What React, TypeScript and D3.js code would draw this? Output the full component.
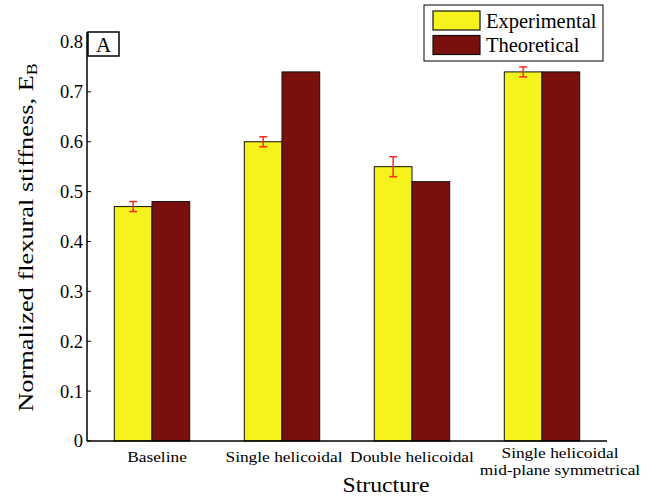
import React from "react";
import * as d3 from "d3";

const categories = ["Baseline", "Single helicoidal", "Double helicoidal", "Single helicoidal\nmid-plane symmetrical"];
const experimental = [0.47, 0.6, 0.55, 0.74];
const experimentalErr = [0.01, 0.01, 0.02, 0.01];
const theoretical = [0.48, 0.74, 0.52, 0.74];
const yTicks = [0, 0.1, 0.2, 0.3, 0.4, 0.5, 0.6, 0.7, 0.8];
const seriesNames = ["Experimental", "Theoretical"];
const colors = ["#f5f21c", "#7a100d"];

const labelDx = [5, 2, 0, 18];

export default function App() {
  const W = 647, H = 498;
  const left = 87, right = 607, top = 32, bottom = 441;
  const x = d3.scaleLinear().domain([0.5, 4.5]).range([left, right]);
  const y = d3.scaleLinear().domain([0, 0.82]).range([bottom, top]);
  const bw = 0.29;
  const font = "'Liberation Serif', 'Times New Roman', serif";
  const w = x(bw) - x(0);
  return (
    <div style={{ position: "absolute", left: 0, top: 0 }}>
      <svg width={W} height={H} style={{ display: "block", background: "#fff" }}>
        {categories.map((c, i) => {
          const cx = x(i + 1);
          const ex = cx - w / 2;
          const y1 = y(experimental[i] + experimentalErr[i]);
          const y2 = y(experimental[i] - experimentalErr[i]);
          return (
            <g key={c}>
              <rect x={cx - w} y={y(experimental[i])} width={w} height={y(0) - y(experimental[i])} fill={colors[0]} stroke="#111" strokeWidth={1} />
              <rect x={cx} y={y(theoretical[i])} width={w} height={y(0) - y(theoretical[i])} fill={colors[1]} stroke="#111" strokeWidth={1} />
              <g stroke="#ff2a1a" strokeWidth={1.5}>
                <line x1={ex} x2={ex} y1={y1} y2={y2} />
                <line x1={ex - 4} x2={ex + 4} y1={y1} y2={y1} />
                <line x1={ex - 4} x2={ex + 4} y1={y2} y2={y2} />
              </g>
            </g>
          );
        })}
        {/* axes */}
        <line x1={left} x2={left} y1={top} y2={bottom} stroke="#000" strokeWidth={1.5} />
        <line x1={left} x2={right} y1={bottom} y2={bottom} stroke="#000" strokeWidth={1.5} />
        {yTicks.map((t) => (
          <g key={t}>
            <line x1={left} x2={left + 4} y1={y(t)} y2={y(t)} stroke="#000" strokeWidth={1} />
            <text x={left - 4} y={y(t)} dy="0.35em" textAnchor="end" fontFamily={font} fontSize={18.5}>
              {t === 0 ? "0" : t.toFixed(1)}
            </text>
          </g>
        ))}
        {categories.map((c, i) => {
          const lines = c.split("\n");
          const cx = x(i + 1) + labelDx[i];
          const y0 = lines.length > 1 ? 458 : 462;
          return (
            <g key={c} transform={`translate(${cx},${y0}) scale(1.12,1)`}>
              {lines.map((l, k) => (
                <text key={k} x={0} y={k * 17} textAnchor="middle" fontFamily={font} fontSize={15.5}>{l}</text>
              ))}
            </g>
          );
        })}
        <g transform="translate(386,492) scale(1.13,1)">
          <text x={0} y={0} textAnchor="middle" fontFamily={font} fontSize={21}>Structure</text>
        </g>
        <g transform="translate(33,237.5) rotate(-90) scale(1.2,1)">
          <text x={0} y={0} textAnchor="middle" fontFamily={font} fontSize={22}>
            Normalized flexural stiffness, E<tspan fontSize={15} dy={4}>B</tspan>
          </text>
        </g>
        {/* A label */}
        <rect x={88} y={32} width={31} height={24} fill="#fff" stroke="#000" strokeWidth={1.5} />
        <text x={103.5} y={52} textAnchor="middle" fontFamily={font} fontSize={21}>A</text>
        {/* legend */}
        <rect x={424} y={5} width={179} height={56} fill="#fff" stroke="#000" strokeWidth={1} />
        {seriesNames.map((s, k) => (
          <g key={s}>
            <rect x={433} y={11 + k * 24.5} width={47} height={19} fill={colors[k]} stroke="#111" strokeWidth={1.2} />
            <text x={486} y={27.5 + k * 24.5} fontFamily={font} fontSize={20.5}>{s}</text>
          </g>
        ))}
      </svg>
    </div>
  );
}
